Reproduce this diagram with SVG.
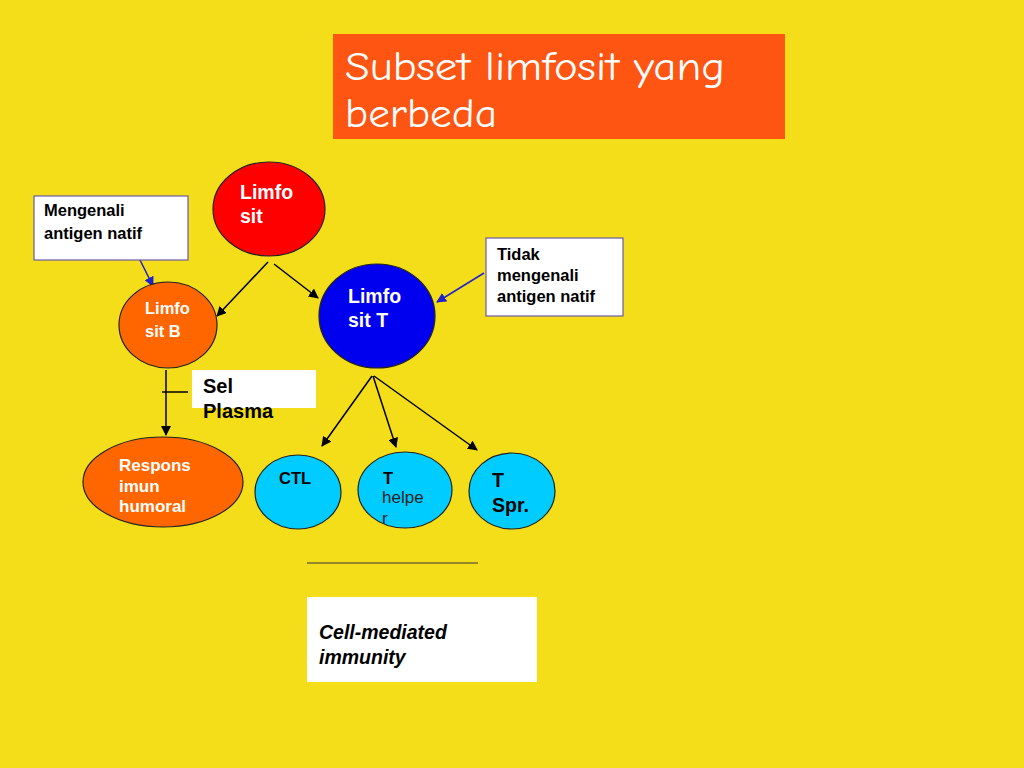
<svg xmlns="http://www.w3.org/2000/svg" width="1024" height="768" viewBox="0 0 1024 768">
<style>
.t{font-family:"Liberation Sans",Arial,sans-serif;font-weight:bold}
.w{fill:#fff}
.k{fill:#000}
.node{stroke:#222;stroke-width:1.2}
.box{fill:#fff;stroke:#6a5aa8;stroke-width:1.2}
.c{stroke:#000;stroke-width:1.5;fill:none}
.b{stroke:#2222cc;stroke-width:1.5;fill:none}
.ti{font-family:"Comic Neue","DejaVu Sans",sans-serif;font-size:41px;fill:#fff}
</style>
<defs>
<marker id="ak" markerWidth="10" markerHeight="10" refX="9" refY="5" orient="auto" markerUnits="userSpaceOnUse"><path d="M0,0 L10,5 L0,10 z" fill="#000"/></marker>
<marker id="ab" markerWidth="10" markerHeight="10" refX="9" refY="5" orient="auto" markerUnits="userSpaceOnUse"><path d="M0,0 L10,5 L0,10 z" fill="#2222cc"/></marker>
<clipPath id="thc"><ellipse cx="405" cy="490" rx="47" ry="38"/></clipPath>
</defs>
<rect width="1024" height="768" fill="#F4DE1A"/>
<g id="title">
<rect x="333" y="34" width="452" height="105" fill="#FF5513"/>
<text class="ti" x="345" y="80" textLength="380" lengthAdjust="spacingAndGlyphs">Subset limfosit yang</text>
<text class="ti" x="345" y="127" textLength="152" lengthAdjust="spacingAndGlyphs">berbeda</text>
</g>
<g id="connectors">
<line class="b" x1="140" y1="260" x2="153" y2="286" marker-end="url(#ab)"/>
<line class="b" x1="484" y1="273" x2="437" y2="302" marker-end="url(#ab)"/>
<line class="c" x1="268" y1="262" x2="217" y2="316" marker-end="url(#ak)"/>
<line class="c" x1="274" y1="264" x2="318" y2="298" marker-end="url(#ak)"/>
<line class="c" x1="166" y1="370" x2="166" y2="435" marker-end="url(#ak)"/>
<line class="c" x1="162" y1="392" x2="188" y2="392"/>
<line class="c" x1="372" y1="376" x2="322" y2="446" marker-end="url(#ak)"/>
<line class="c" x1="373" y1="376" x2="396" y2="447" marker-end="url(#ak)"/>
<line class="c" x1="374" y1="376" x2="477" y2="450" marker-end="url(#ak)"/>
<line x1="307" y1="563" x2="478" y2="563" stroke="#333" stroke-width="1.2"/>
</g>
<g id="mengenali">
<rect class="box" x="34" y="196" width="154" height="64"/>
<text class="t k" x="44" y="216" font-size="16.5">Mengenali</text>
<text class="t k" x="44" y="239" font-size="16.5">antigen natif</text>
</g>
<g id="limfosit">
<ellipse class="node" cx="269" cy="209" rx="56" ry="47" fill="#FF0000"/>
<text class="t w" x="240" y="199" font-size="19.5">Limfo</text>
<text class="t w" x="240" y="223" font-size="19.5">sit</text>
</g>
<g id="limfositB">
<ellipse class="node" cx="168" cy="325" rx="49" ry="43" fill="#FF6600"/>
<text class="t w" x="145" y="314" font-size="16.5">Limfo</text>
<text class="t w" x="145" y="337" font-size="16.5">sit B</text>
</g>
<g id="limfositT">
<ellipse class="node" cx="377" cy="316" rx="58" ry="52" fill="#0000EE"/>
<text class="t w" x="348" y="303" font-size="19.5">Limfo</text>
<text class="t w" x="348" y="327" font-size="19.5">sit T</text>
</g>
<g id="tidak">
<rect class="box" x="486" y="238" width="137" height="78"/>
<text class="t k" x="497" y="260" font-size="16.5">Tidak</text>
<text class="t k" x="497" y="281" font-size="16.5">mengenali</text>
<text class="t k" x="497" y="302" font-size="16.5">antigen natif</text>
</g>
<g id="selplasma">
<rect x="192" y="370" width="124" height="38" fill="#fff"/>
<text class="t k" x="203" y="393" font-size="20">Sel</text>
<text class="t k" x="203" y="418" font-size="20">Plasma</text>
</g>
<g id="respons">
<ellipse class="node" cx="163" cy="482" rx="80" ry="45" fill="#FF6600"/>
<text class="t w" x="119" y="471" font-size="17">Respons</text>
<text class="t w" x="119" y="492" font-size="17">imun</text>
<text class="t w" x="119" y="512" font-size="17">humoral</text>
</g>
<g id="ctl">
<ellipse class="node" cx="298" cy="492" rx="43" ry="37" fill="#00CCFF"/>
<text class="t k" x="279" y="484" font-size="16.5">CTL</text>
</g>
<g id="thelper">
<ellipse class="node" cx="405" cy="490" rx="47" ry="38" fill="#00CCFF"/>
<g clip-path="url(#thc)">
<text class="t k" x="383" y="484" font-size="16.5">T</text>
<text x="382" y="503" font-size="17" font-family="'Liberation Sans',Arial,sans-serif" fill="#222">helpe</text>
<text x="382" y="524" font-size="17" font-family="'Liberation Sans',Arial,sans-serif" fill="#222">r</text>
</g>
</g>
<g id="tspr">
<ellipse class="node" cx="512" cy="491" rx="43" ry="38" fill="#00CCFF"/>
<text class="t k" x="492" y="487" font-size="19.5">T</text>
<text class="t k" x="492" y="512" font-size="19.5">Spr.</text>
</g>
<g id="cellmediated">
<rect x="307" y="597" width="230" height="85" fill="#fff"/>
<text class="t k" x="319" y="639" font-size="19.5" font-style="italic">Cell-mediated</text>
<text class="t k" x="319" y="664" font-size="19.5" font-style="italic">immunity</text>
</g>
</svg>
